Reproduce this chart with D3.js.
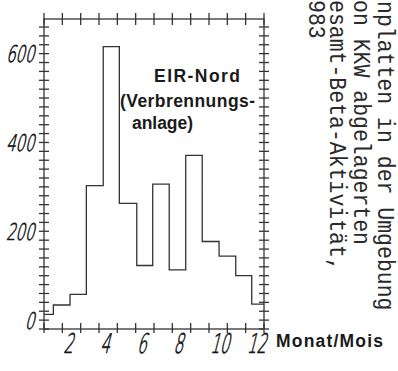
<!doctype html>
<html>
    <head>
        <script src="https://d3js.org/d3.v7.min.js"></script>
        <style>
            body { margin: 0; background: #fff; }
            svg { display: block; }
            .ax line, .ax path { stroke: #333; stroke-width: 1.3; fill: none; }
            .num { font-family: "DejaVu Sans"; font-weight: 200; fill: #111; stroke: #111; stroke-width: 0.7; }
            .bold { font-family: "Liberation Sans", Arial, sans-serif; font-weight: bold; fill: #1a1a1a; }
            .mono { font-family: "Liberation Mono", "DejaVu Sans Mono", monospace; fill: #2a2a2a; }
        </style>
    </head>
    <body>
        <svg id="chart" width="398" height="371"></svg>

        <script>
            // step edges (months) and monthly beta activity levels
            var edges = [0, 0.51, 1.42, 2.31, 3.23, 4.11, 5.06, 5.93, 6.83, 7.73, 8.63, 9.55, 10.46, 11.33];
            var values = [13, 34, 58, 303, 616, 263, 123, 306, 113, 371, 177, 144, 100, 36];
            var monthTicks = d3.range(0, 13);
            var monthLabels = [2, 4, 6, 8, 10, 12];
            var yLabels = [0, 200, 400, 600];
            // caption columns, as far as they are visible
            var caption = ["nplatten in der Umgebung", "on KKW abgelagerten", "esamt-Beta-Aktivität,", "983"];

            var svg = d3.select('#chart');

            var xScale = d3.scaleLinear().domain([0, 12]).range([44, 264]);
            var yScale = d3.scaleLinear().domain([-20, 678]).range([329, 19]);
            var yTicks = d3.range(-20, 661, 20);

            var ax = svg.append('g').attr('class', 'ax');

            // frame
            ax.append('rect')
                .attr('x', xScale(0)).attr('y', yScale(678))
                .attr('width', xScale(12) - xScale(0))
                .attr('height', yScale(-20) - yScale(678))
                .style('fill', 'none').style('stroke', '#333').style('stroke-width', 1.3);

            // left and right ticks
            [0, 12].forEach(function(m) {
                ax.selectAll(null).data(yTicks).enter().append('line')
                    .attr('x1', xScale(m) - 5).attr('x2', xScale(m) + 5)
                    .attr('y1', d => yScale(d)).attr('y2', d => yScale(d));
            });

            // bottom and top ticks
            ax.selectAll(null).data(monthTicks).enter().append('line')
                .attr('x1', d => xScale(d)).attr('x2', d => xScale(d))
                .attr('y1', yScale(-20) - 6).attr('y2', yScale(-20) + 4);
            ax.selectAll(null).data(monthTicks).enter().append('line')
                .attr('x1', d => xScale(d)).attr('x2', d => xScale(d))
                .attr('y1', yScale(678) - 6).attr('y2', yScale(678) + 6);

            // step line
            var pts = edges.map((e, i) => [e, values[i]]);
            pts.push([12, values[values.length - 1]]);
            var line = d3.line()
                .x(d => xScale(d[0]))
                .y(d => yScale(d[1]))
                .curve(d3.curveStepAfter);
            ax.append('path').attr('d', line(pts));

            // y labels
            svg.selectAll('g.ylab').data(yLabels).enter().append('g')
                .attr('class', 'ylab')
                .attr('transform', d => 'translate(34,' + (yScale(d) + 8.5) + ') skewX(-14) scale(0.64,1)')
                .append('text')
                    .attr('class', 'num')
                    .style('font-size', '23px')
                    .attr('text-anchor', 'end')
                    .text(d => d);

            // x labels
            svg.selectAll('g.xlab').data(monthLabels).enter().append('g')
                .attr('class', 'xlab')
                .attr('transform', d => 'translate(' + (xScale(d - 1) + 1) + ',353) skewX(-14) scale(0.56,1)')
                .append('text')
                    .attr('class', 'num')
                    .style('font-size', '27px')
                    .text(d => d);

            svg.append('text').attr('class', 'bold')
                .attr('x', 276).attr('y', 347)
                .style('font-size', '17.5px')
                .attr('textLength', 107)
                .text('Monat/Mois');

            // annotation
            var notes = [['EIR-Nord', 154, 82, 86], ['(Verbrennungs-', 120, 107, 135], ['anlage)', 132, 129, 61]];
            svg.selectAll('text.note').data(notes).enter().append('text')
                .attr('class', 'bold note')
                .attr('x', d => d[1]).attr('y', d => d[2])
                .attr('textLength', d => d[3])
                .style('font-size', '17.5px')
                .text(d => d[0]);

            // rotated caption columns
            var colX = [378, 354, 330, 309];
            var colY = [1, 0, 0, 0];
            svg.selectAll('g.cap').data(caption).enter().append('g')
                .attr('class', 'cap')
                .attr('transform', (d, i) => 'translate(' + colX[i] + ',' + colY[i] + ') rotate(90) scale(1,1.15)')
                .append('text')
                    .attr('class', 'mono')
                    .style('font-size', '21.5px')
                    .text(d => d);
        </script>
    </body>
</html>
